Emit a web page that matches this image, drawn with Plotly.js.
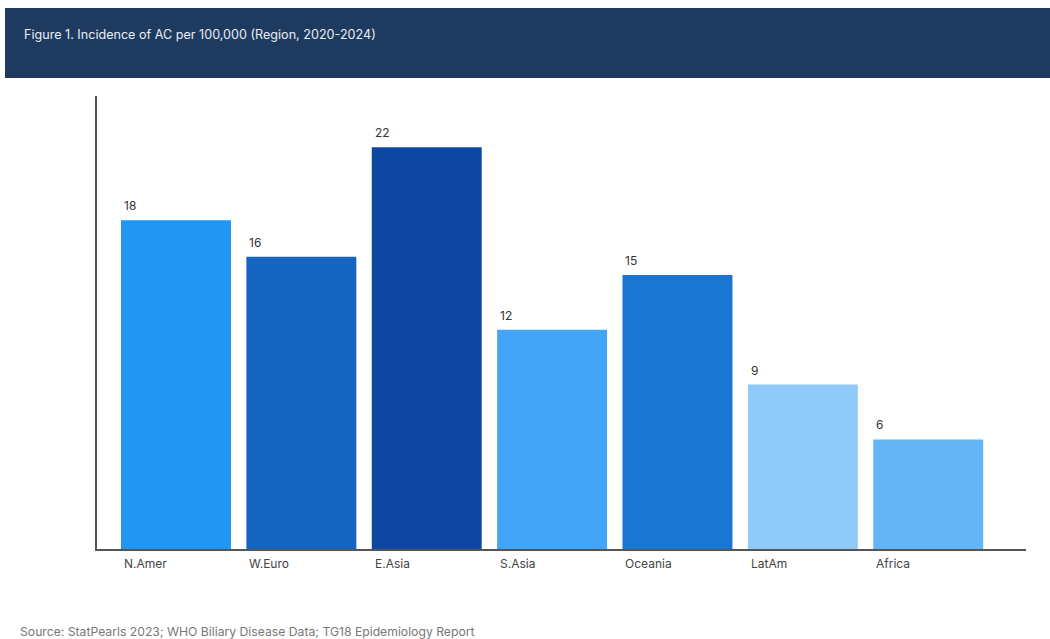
<!DOCTYPE html>
<html>
<head>
<meta charset="utf-8">
<script src="https://cdn.plot.ly/plotly-3.0.1.min.js"></script>
<style>html,body{margin:0;padding:0;background:#fff;}#chart{width:1050px;height:639px;}</style>
</head>
<body>
<div id="chart"></div>
<script>
const categories = ["N.Amer", "W.Euro", "E.Asia", "S.Asia", "Oceania", "LatAm", "Africa"];
const incidence = [18, 16, 22, 12, 15, 9, 6];
const barColors = ["#2196F3", "#1565C0", "#0D47A1", "#42A5F5", "#1976D2", "#90CAF9", "#64B5F6"];
const titleText = "Figure 1. Incidence of AC per 100,000 (Region, 2020-2024)";
const sourceText = "Source: StatPearls 2023; WHO Biliary Disease Data; TG18 Epidemiology Report";

const FONT = 'Inter, Roboto, sans-serif';
const bargap = 0.123;
const half = (1 - bargap) / 2;

const annotations = [];
categories.forEach((c, i) => {
  annotations.push({
    x: i - half, y: incidence[i], xref: 'x', yref: 'y',
    text: String(incidence[i]), showarrow: false,
    xanchor: 'left', yanchor: 'bottom', xshift: 1, yshift: 5,
    font: {family: FONT, size: 12, color: '#333333'}
  });
  annotations.push({
    x: i - half, y: 0, xref: 'x', yref: 'paper',
    text: c, showarrow: false,
    xanchor: 'left', yanchor: 'top', xshift: 1, yshift: -5,
    font: {family: FONT, size: 12, color: '#444444'}
  });
});
annotations.push({
  x: (18 - 97) / 929, y: (549 - 631) / 453, xref: 'paper', yref: 'paper',
  xanchor: 'left', yanchor: 'middle', showarrow: false,
  text: sourceText,
  font: {family: FONT, size: 12.2, color: '#777777'}
});

const trace = {
  type: 'bar',
  x: categories.map((c, i) => i),
  y: incidence,
  marker: {color: barColors, line: {width: 0}},
  hoverinfo: 'skip'
};

const layout = {
  width: 1050, height: 639,
  margin: {l: 97, r: 24, t: 96, b: 90},
  paper_bgcolor: '#ffffff', plot_bgcolor: '#ffffff',
  bargap: bargap,
  showlegend: false,
  title: {
    text: titleText, xref: 'container', yref: 'container',
    x: 24 / 1050, xanchor: 'left', y: 1 - 35 / 639, yanchor: 'middle',
    font: {family: FONT, size: 12.6, color: '#e8eef6'}
  },
  xaxis: {
    range: [-0.63, 6.78], showgrid: false, zeroline: false,
    showticklabels: false, ticks: '', showline: true, linecolor: '#555555', linewidth: 2,
    fixedrange: true
  },
  yaxis: {
    range: [0, 24.8], showgrid: false, zeroline: false,
    showticklabels: false, ticks: '', showline: true, linecolor: '#555555', linewidth: 2,
    fixedrange: true
  },
  shapes: [{
    type: 'rect', xref: 'paper', yref: 'paper', layer: 'below',
    x0: (5 - 97) / 929, x1: (1050 - 97) / 929,
    y0: (549 - 78) / 453, y1: (549 - 8) / 453,
    fillcolor: '#1f3a5f', line: {width: 0}
  }],
  annotations: annotations
};

Plotly.newPlot('chart', [trace], layout, {displayModeBar: false, staticPlot: true});
</script>
</body>
</html>
